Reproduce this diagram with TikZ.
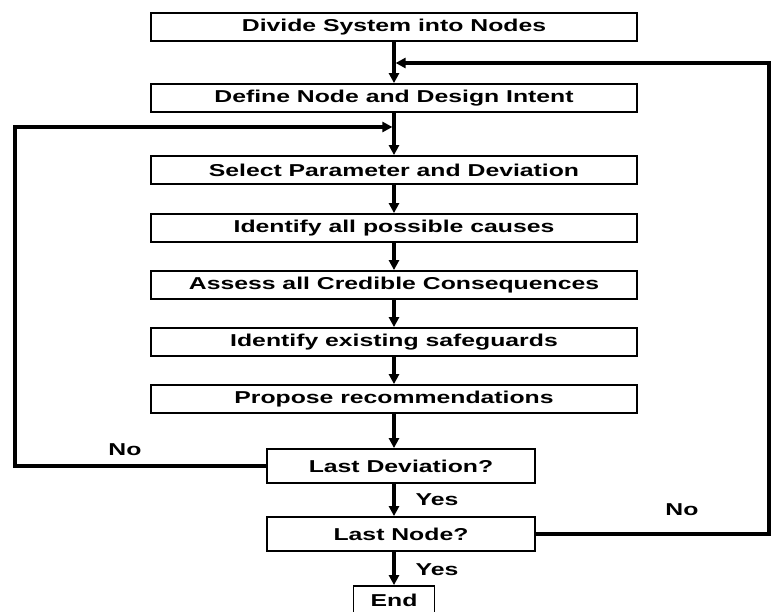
\documentclass[tikz,border=0pt]{standalone}
\usepackage{fontspec}
\setmainfont{Liberation Sans}[FakeStretch=1.44]
\usetikzlibrary{arrows.meta}

\begin{document}
\begin{tikzpicture}[x=1pt,y=-1pt,
  every node/.style={font=\fontsize{17.2}{19}\selectfont\bfseries},
  stepbox/.style={draw,line width=1.8pt,minimum width=486pt,minimum height=28pt,inner sep=0pt},
  askbox/.style={draw,line width=1.8pt,minimum width=268pt,minimum height=34pt,inner sep=0pt},
  flow/.style={line width=3.2pt,-{Triangle[length=10pt,width=10pt]}}]
  \useasboundingbox (0,0) rectangle (771,612);
  % main steps
  \node[stepbox] (divide) at (394,27) {Divide System into Nodes};
  \node[stepbox] (define) at (394,98) {Define Node and Design Intent};
  \node[stepbox] (select) at (394,170) {Select Parameter and Deviation};
  \node[stepbox] (causes) at (394,228) {Identify all possible causes};
  \node[stepbox] (assess) at (394,285) {Assess all Credible Consequences};
  \node[stepbox] (guards) at (394,342) {Identify existing safeguards};
  \node[stepbox] (propose) at (394,399) {Propose recommendations};
  % decisions
  \node[askbox] (lastdev) at (401,466) {Last Deviation?};
  \node[askbox] (lastnode) at (401,534) {Last Node?};
  \node[draw,line width=1.8pt,minimum width=81pt,minimum height=28pt,inner sep=0pt] (finish) at (394,600) {End};
  \foreach \a/\b in {divide/define,define/select,select/causes,causes/assess,assess/guards,guards/propose,propose/lastdev,lastdev/lastnode,lastnode/finish}
    \draw[flow] (\a.south -| divide) -- (\b.north -| divide);
  % loops back
  \coordinate (leftcorner) at (15,127);
  \coordinate (leftin) at (392.4,127);
  \coordinate (rightcorner) at (769,63);
  \coordinate (rightin) at (395.6,63);
  \draw[flow] (lastdev.west) -| (leftcorner) -- (leftin);
  \draw[flow] (lastnode.east) -| (rightcorner) -- (rightin);
  \node (nodev) at (125,450) {No};
  \node (nonode) at (682,510) {No};
  \node (yesdev) at (437,500) {Yes};
  \node (yesnode) at (437,570) {Yes};
\end{tikzpicture}
\end{document}
